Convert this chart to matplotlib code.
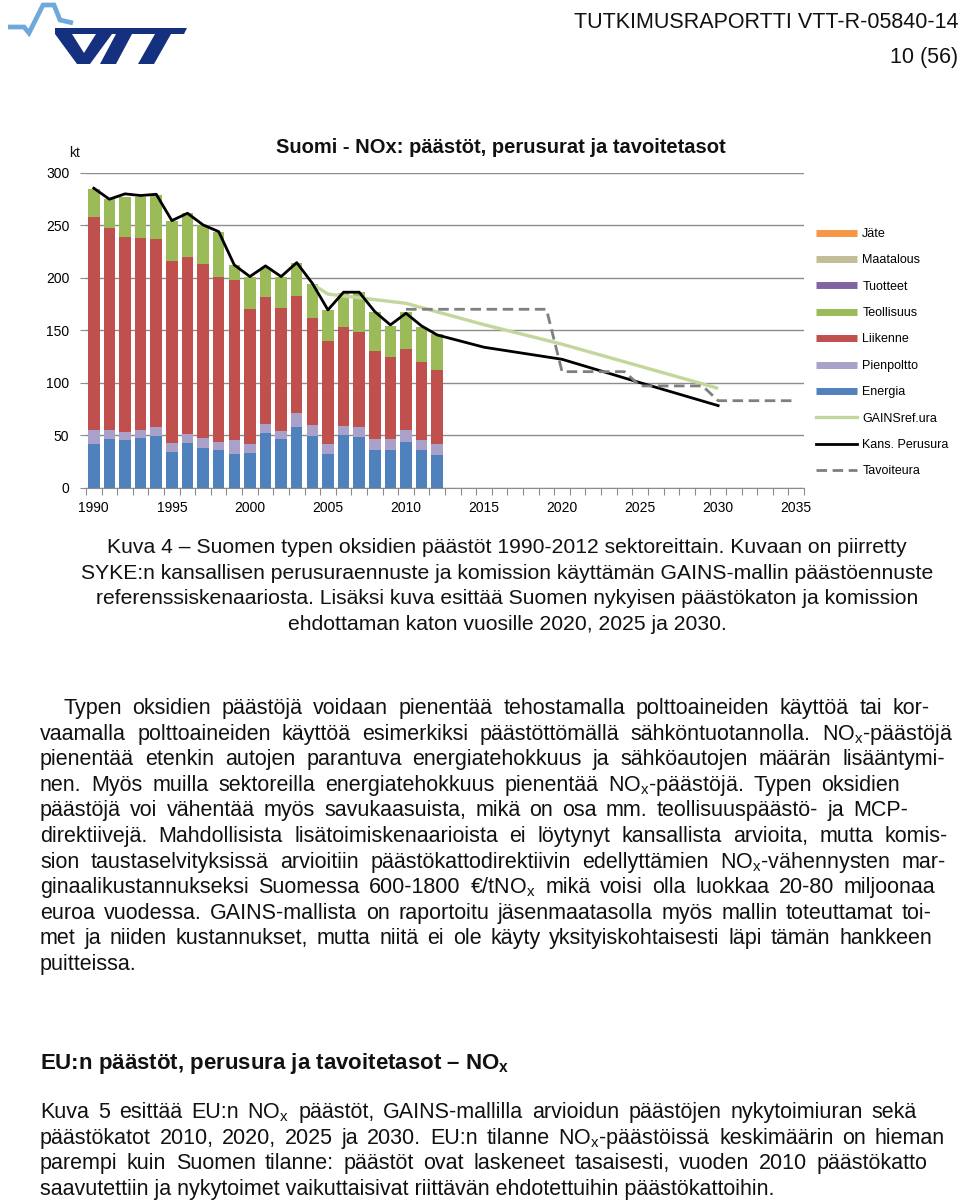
import numpy as np
import matplotlib
matplotlib.use('Agg')
import matplotlib.pyplot as plt
from matplotlib.lines import Line2D
from matplotlib.patches import Polygon
from matplotlib.transforms import IdentityTransform
from matplotlib import font_manager

#%% data (kt NOx)

years_hist = list(range(1990, 2013))
energia = [41.5, 46.0, 45.0, 47.5, 48.8, 33.9, 42.1, 38.0, 35.8, 32.3, 33.2, 51.7,
           46.0, 58.0, 49.4, 31.7, 50.1, 47.9, 35.8, 35.8, 43.1, 35.8, 31.0]
pienpoltto = [13.7, 8.9, 8.0, 7.7, 8.6, 8.9, 8.6, 9.5, 7.3, 13.0, 8.0, 8.6,
              7.9, 13.4, 10.2, 9.8, 8.9, 9.5, 10.2, 10.5, 11.8, 9.5, 10.5]
liikenne = [203.2, 193.0, 186.3, 182.6, 179.4, 173.6, 169.6, 165.8, 158.1, 152.7, 128.8, 121.2,
            117.1, 111.3, 101.8, 98.3, 94.5, 90.7, 84.0, 77.9, 77.3, 74.0, 70.6]
teollisuus = [26.4, 27.1, 38.2, 39.2, 42.6, 37.6, 41.3, 37.2, 42.3, 14.3, 31.2, 27.6,
              29.6, 31.2, 32.8, 29.6, 32.4, 38.1, 37.8, 30.2, 34.8, 33.9, 34.7]
tuotteet = [0.0] * 23
maatalous = [0.0] * 23
jate = [0.0] * 23

kans_years = list(range(1990, 2013)) + [2015, 2020, 2025, 2030]
kans = [285.5, 275.0, 280.1, 278.5, 279.7, 254.6, 261.6, 250.5, 244.1, 212.3, 201.2, 211.4,
        201.2, 214.5, 194.8, 169.4, 186.3, 186.3, 167.8, 155.1, 166.2, 154.1, 145.5,
        133.8, 122.3, 100.0, 78.1]

gains_years = [2004, 2005, 2010, 2015, 2020, 2025, 2030]
gains = [194.0, 184.5, 175.7, 155.3, 136.7, 115.7, 94.6]

tavoite_years = list(range(2010, 2036))
tavoite = [170.0] * 10 + [110.5] * 5 + [96.9] * 5 + [82.8] * 6

sector_names = ['Jäte', 'Maatalous', 'Tuotteet', 'Teollisuus', 'Liikenne', 'Pienpoltto', 'Energia']
sector_colors = ['#F79646', '#C4BD97', '#8064A2', '#9BBB59', '#C0504D', '#A9A1C9', '#4F81BD']

#%% page text

header = 'TUTKIMUSRAPORTTI VTT-R-05840-14'
page_no = '10 (56)'
chart_title = 'Suomi - NOx: päästöt, perusurat ja tavoitetasot'

caption = ['Kuva 4 – Suomen typen oksidien päästöt 1990-2012 sektoreittain. Kuvaan on piirretty',
           'SYKE:n kansallisen perusuraennuste ja komission käyttämän GAINS-mallin päästöennuste',
           'referenssiskenaariosta. Lisäksi kuva esittää Suomen nykyisen päästökaton ja komission',
           'ehdottaman katon vuosille 2020, 2025 ja 2030.']

NOX = r'NO$_\mathregular{x}$'
para1 = ['Typen oksidien päästöjä voidaan pienentää tehostamalla polttoaineiden käyttöä tai kor-',
         'vaamalla polttoaineiden käyttöä esimerkiksi päästöttömällä sähköntuotannolla. ' + NOX + '-päästöjä',
         'pienentää etenkin autojen parantuva energiatehokkuus ja sähköautojen määrän lisääntymi-',
         'nen. Myös muilla sektoreilla energiatehokkuus pienentää ' + NOX + '-päästöjä. Typen oksidien',
         'päästöjä voi vähentää myös savukaasuista, mikä on osa mm. teollisuuspäästö- ja MCP-',
         'direktiivejä. Mahdollisista lisätoimiskenaarioista ei löytynyt kansallista arvioita, mutta komis-',
         'sion taustaselvityksissä arvioitiin päästökattodirektiivin edellyttämien ' + NOX + '-vähennysten mar-',
         'ginaalikustannukseksi Suomessa 600-1800 €/t' + NOX + ' mikä voisi olla luokkaa 20-80 miljoonaa',
         'euroa vuodessa. GAINS-mallista on raportoitu jäsenmaatasolla myös mallin toteuttamat toi-',
         'met ja niiden kustannukset, mutta niitä ei ole käyty yksityiskohtaisesti läpi tämän hankkeen',
         'puitteissa.']
para1_ends = [930, 953, 945, 900, 908, 948, 946, 935, 932, 932, None]

heading2 = 'EU:n päästöt, perusura ja tavoitetasot – ' + NOX
para2 = ['Kuva 5 esittää EU:n ' + NOX + ' päästöt, GAINS-mallilla arvioidun päästöjen nykytoimiuran sekä',
         'päästökatot 2010, 2020, 2025 ja 2030. EU:n tilanne ' + NOX + '-päästöissä keskimäärin on hieman',
         'parempi kuin Suomen tilanne: päästöt ovat laskeneet tasaisesti, vuoden 2010 päästökatto',
         'saavutettiin ja nykytoimet vaikuttaisivat riittävän ehdotettuihin päästökattoihin.']
para2_ends = [917, 945, 927, None]

#%% setup

def has_font(name):
    try:
        font_manager.findfont(name, fallback_to_default=False)
        return True
    except ValueError:
        return False

FONT = 'Liberation Sans' if has_font('Liberation Sans') else 'DejaVu Sans'
plt.rcParams['font.family'] = [FONT, 'DejaVu Sans']
plt.rcParams['mathtext.fontset'] = 'custom'
plt.rcParams['mathtext.rm'] = FONT
plt.rcParams['mathtext.default'] = 'regular'

W, H = 960, 1201
fig = plt.figure(figsize=(W / 100, H / 100), dpi=100)
fig.patch.set_facecolor('white')
renderer = fig.canvas.get_renderer()
PX = IdentityTransform()
BODY = 15.5
TXT = '#111111'

def ptext(x, y, s, **kw):
    # y measured from the top of the page, in pixels
    return fig.text(x, H - y, s, transform=PX, color=TXT, **kw)

def line_of_words(s, x0, y, x1=None, size=BODY, weight='normal'):
    if x1 is None:
        ptext(x0, y, s, fontsize=size, fontweight=weight, va='baseline')
        return
    words = s.split(' ')
    objs = [ptext(0, y, w, fontsize=size, fontweight=weight, va='baseline') for w in words]
    widths = [o.get_window_extent(renderer).width for o in objs]
    n = max(len(words) - 1, 1)
    gap = (x1 - x0 - sum(widths)) / n
    if gap < 4.5:
        # line too long for the target: shrink it a little
        scale = (x1 - x0 - 4.5 * n) / sum(widths)
        for o in objs:
            o.set_fontsize(size * scale)
        widths = [o.get_window_extent(renderer).width for o in objs]
        gap = (x1 - x0 - sum(widths)) / n
    x = x0
    for o, w in zip(objs, widths):
        o.set_x(x)
        x += w + gap

#%% logo

light = '#6FA8DC'
navy = '#15307E'
pulse_x = [8, 24, 29, 43, 54, 60, 73]
pulse_y = [27, 27, 33, 5, 5, 20, 23]
fig.add_artist(Line2D(pulse_x, [H - v for v in pulse_y], transform=PX, color=light,
                      lw=3.4, solid_joinstyle='miter', solid_capstyle='butt'))
shapes = [[(55, 28), (187, 28), (184, 34), (55, 34)],
          [(55, 34), (72, 34), (84, 53), (96, 34), (112, 34), (90, 64), (77, 64)],
          [(116, 34), (132, 34), (116, 64), (100, 64)],
          [(155, 34), (171, 34), (154, 64), (138, 64)]]
for sh in shapes:
    fig.add_artist(Polygon([(x, H - y) for x, y in sh], closed=True, transform=PX,
                           facecolor=navy, edgecolor='none'))

ptext(958, 28, header, fontsize=15.5, ha='right', va='baseline')
ptext(958, 63, page_no, fontsize=15.5, ha='right', va='baseline')

#%% chart

ax = fig.add_axes([86 / W, 1 - 487.5 / H, (804 - 86) / W, (487.5 - 173) / H])
x = np.array(years_hist)
bottom = np.zeros(len(x))
stack = [energia, pienpoltto, liikenne, teollisuus, tuotteet, maatalous, jate]
stack_cols = ['#4F81BD', '#A9A1C9', '#C0504D', '#9BBB59', '#8064A2', '#C4BD97', '#F79646']
for vals, col in zip(stack, stack_cols):
    ax.bar(x, vals, width=0.74, bottom=bottom, color=col, linewidth=0, zorder=2)
    bottom += np.array(vals)

ax.plot(gains_years, gains, color='#C3D69B', lw=2.4, zorder=3, solid_capstyle='butt')
ax.plot(kans_years, kans, color='black', lw=2.0, zorder=4)
ax.plot(tavoite_years, tavoite, color='#7F7F7F', lw=2.0, ls=(0, (3.8, 2.0)), zorder=4)

ax.set_xlim(1989.5, 2035.5)
ax.set_ylim(0, 300)
ax.set_yticks(range(0, 301, 50))
ax.yaxis.grid(True, color='#8C8C8C', lw=1.0)
ax.set_axisbelow(True)
for s in ['top', 'right', 'left']:
    ax.spines[s].set_visible(False)
ax.spines['bottom'].set_color('#8C8C8C')
ax.tick_params(axis='y', length=4, color='#8C8C8C', labelsize=10, pad=8)
ax.set_xticks(np.arange(1989.5, 2036, 1))
ax.set_xticklabels([])
ax.set_xticks(range(1990, 2036, 5), minor=True)
ax.set_xticklabels([str(v) for v in range(1990, 2036, 5)], minor=True)
ax.tick_params(axis='x', which='major', length=5, color='#8C8C8C')
ax.tick_params(axis='x', which='minor', length=0, labelsize=10, pad=10)

ptext(75, 157, 'kt', fontsize=10, ha='center', va='baseline')
ptext(501, 153, chart_title, fontsize=14.5, fontweight='bold', ha='center', va='baseline')

handles = [Line2D([], [], color=c, lw=5, solid_capstyle='butt') for c in sector_colors]
handles += [Line2D([], [], color='#C3D69B', lw=2.4),
            Line2D([], [], color='black', lw=2.0),
            Line2D([], [], color='#7F7F7F', lw=2.0, ls=(0, (3.8, 2.0)))]
labels = sector_names + ['GAINSref.ura', 'Kans. Perusura', 'Tavoiteura']
fig.legend(handles, labels, loc='upper left', bbox_to_anchor=(811 / W, 1 - 223 / H),
           frameon=False, fontsize=9, handlelength=3.3, labelspacing=1.15,
           handletextpad=0.4, borderaxespad=0)

#%% text below chart

for i, s in enumerate(caption):
    ptext(507, 553 + i * 25.7, s, fontsize=15.2, ha='center', va='baseline')

for i, (s, e) in enumerate(zip(para1, para1_ends)):
    line_of_words(s, 63 if i == 0 else 40, 714 + i * 25.6, e)

line_of_words(heading2, 40, 1069, None, size=16, weight='bold')

for i, (s, e) in enumerate(zip(para2, para2_ends)):
    line_of_words(s, 40, 1118 + i * 25.6, e)

fig.savefig('out.png', dpi=100, facecolor='white')
